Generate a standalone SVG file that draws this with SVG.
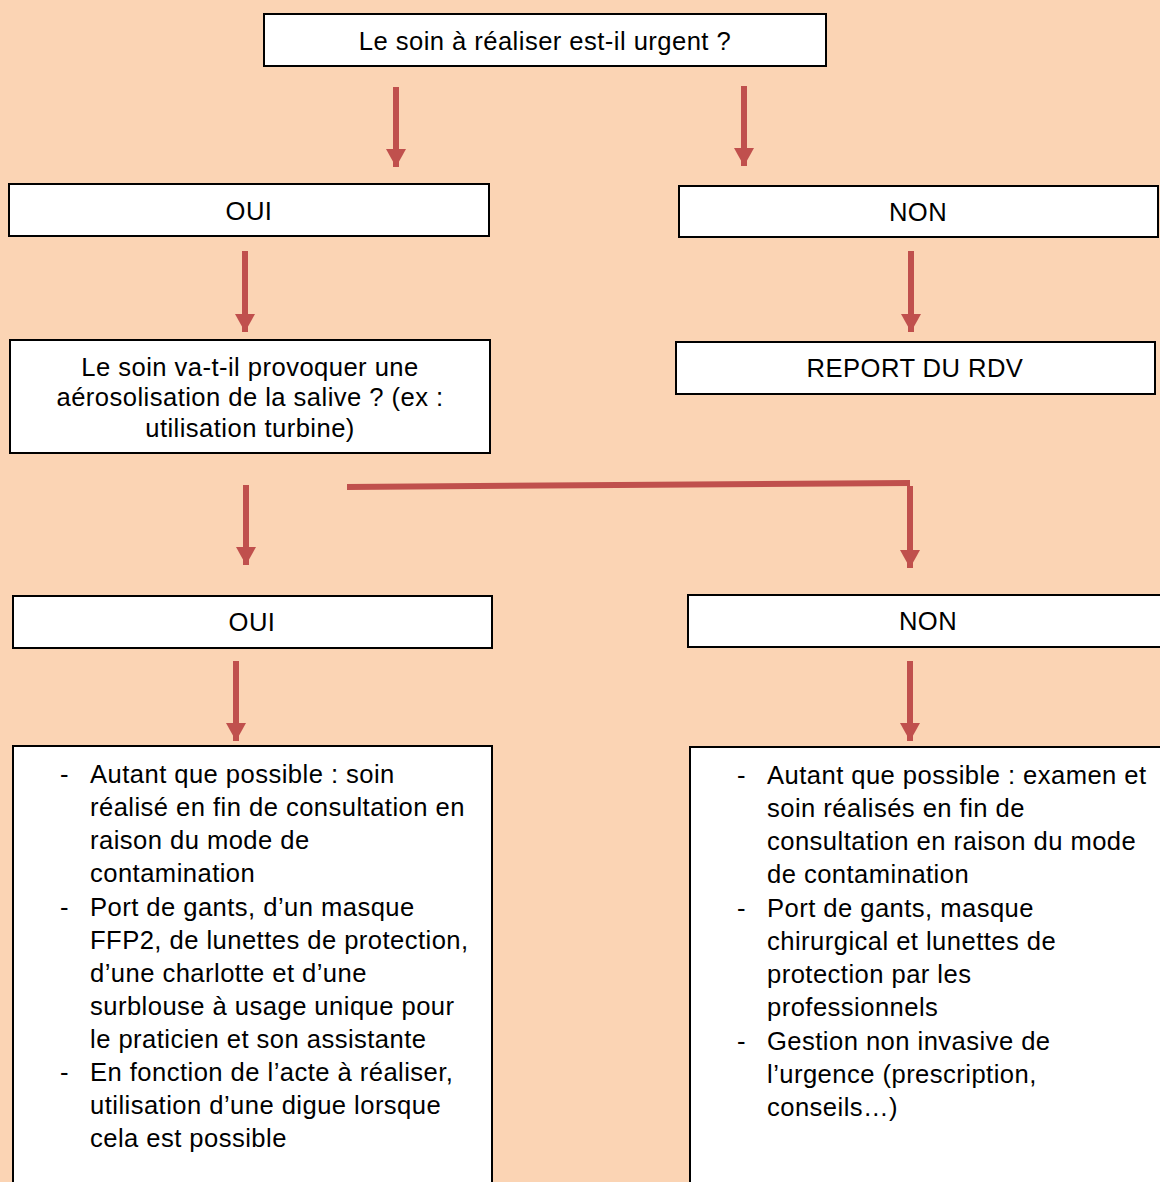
<svg xmlns="http://www.w3.org/2000/svg" width="1160" height="1182" viewBox="0 0 1160 1182">
<defs>
<style>
.bx{fill:#fff;stroke:#000;stroke-width:2}
.t{font-family:"Liberation Sans",Arial,sans-serif;font-size:25.6px;letter-spacing:0.45px;fill:#000}
.c{text-anchor:middle}
.ln{stroke:#C0504D;stroke-width:6;fill:none}
</style>
<marker id="ah" markerUnits="userSpaceOnUse" markerWidth="18" markerHeight="20" refX="18" refY="10" orient="auto">
<path d="M0,0 L18,10 L0,20 Z" fill="#C0504D"/>
</marker>
</defs>
<rect width="1160" height="1182" fill="#FBD4B4"/>
<g id="connectors">
<line class="ln" x1="396" y1="87" x2="396" y2="167" marker-end="url(#ah)"/>
<line class="ln" x1="744" y1="86" x2="744" y2="166" marker-end="url(#ah)"/>
<line class="ln" x1="245" y1="251" x2="245" y2="332" marker-end="url(#ah)"/>
<line class="ln" x1="911" y1="251" x2="911" y2="332" marker-end="url(#ah)"/>
<line class="ln" x1="246" y1="485" x2="246" y2="565" marker-end="url(#ah)"/>
<polyline class="ln" points="347,487 910,483"/>
<line class="ln" x1="910" y1="486" x2="910" y2="568" marker-end="url(#ah)"/>
<line class="ln" x1="236" y1="661" x2="236" y2="741" marker-end="url(#ah)"/>
<line class="ln" x1="910" y1="661" x2="910" y2="741" marker-end="url(#ah)"/>
</g>
<g id="n-urgent">
<rect class="bx" x="264" y="14" width="562" height="52"/>
<text class="t c" x="545" y="50">Le soin à réaliser est-il urgent ?</text>
</g>
<g id="n-oui1">
<rect class="bx" x="9" y="184" width="480" height="52"/>
<text class="t c" x="249" y="220">OUI</text>
</g>
<g id="n-non1">
<rect class="bx" x="679" y="186" width="479" height="51"/>
<text class="t c" x="918" y="221">NON</text>
</g>
<g id="n-aerosol">
<rect class="bx" x="10" y="340" width="480" height="113"/>
<text class="t c" x="250" y="376">Le soin va-t-il provoquer une</text>
<text class="t c" x="250" y="406">aérosolisation de la salive ? (ex :</text>
<text class="t c" x="250" y="437">utilisation turbine)</text>
</g>
<g id="n-report">
<rect class="bx" x="676" y="342" width="479" height="52"/>
<text class="t c" x="915" y="377">REPORT DU RDV</text>
</g>
<g id="n-oui2">
<rect class="bx" x="13" y="596" width="479" height="52"/>
<text class="t c" x="252" y="631">OUI</text>
</g>
<g id="n-non2">
<rect class="bx" x="688" y="595" width="480" height="52"/>
<text class="t c" x="928" y="630">NON</text>
</g>
<g id="n-oui-actions">
<rect class="bx" x="13" y="746" width="479" height="445"/>
<text class="t" x="60" y="783">-</text>
<text class="t" x="90" y="783">Autant que possible : soin</text>
<text class="t" x="90" y="816">réalisé en fin de consultation en</text>
<text class="t" x="90" y="849">raison du mode de</text>
<text class="t" x="90" y="882">contamination</text>
<text class="t" x="60" y="916">-</text>
<text class="t" x="90" y="916">Port de gants, d’un masque</text>
<text class="t" x="90" y="949">FFP2, de lunettes de protection,</text>
<text class="t" x="90" y="982">d’une charlotte et d’une</text>
<text class="t" x="90" y="1015">surblouse à usage unique pour</text>
<text class="t" x="90" y="1048">le praticien et son assistante</text>
<text class="t" x="60" y="1081">-</text>
<text class="t" x="90" y="1081">En fonction de l’acte à réaliser,</text>
<text class="t" x="90" y="1114">utilisation d’une digue lorsque</text>
<text class="t" x="90" y="1147">cela est possible</text>
</g>
<g id="n-non-actions">
<rect class="bx" x="690" y="747" width="480" height="445"/>
<text class="t" x="737" y="784">-</text>
<text class="t" x="767" y="784">Autant que possible : examen et</text>
<text class="t" x="767" y="817">soin réalisés en fin de</text>
<text class="t" x="767" y="850">consultation en raison du mode</text>
<text class="t" x="767" y="883">de contamination</text>
<text class="t" x="737" y="917">-</text>
<text class="t" x="767" y="917">Port de gants, masque</text>
<text class="t" x="767" y="950">chirurgical et lunettes de</text>
<text class="t" x="767" y="983">protection par les</text>
<text class="t" x="767" y="1016">professionnels</text>
<text class="t" x="737" y="1050">-</text>
<text class="t" x="767" y="1050">Gestion non invasive de</text>
<text class="t" x="767" y="1083">l’urgence (prescription,</text>
<text class="t" x="767" y="1116">conseils…)</text>
</g>
</svg>
